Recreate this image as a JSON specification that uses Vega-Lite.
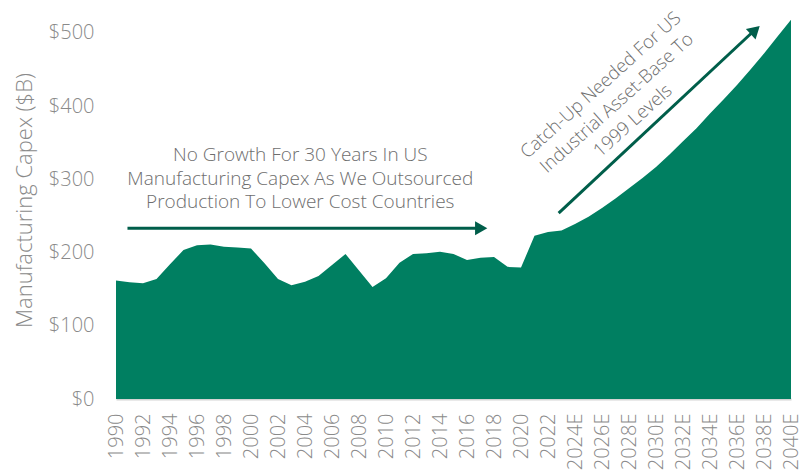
{
  "$schema": "https://vega.github.io/schema/vega-lite/v6.json",
  "width": 675,
  "height": 388,
  "autosize": {"type": "none"},
  "padding": {"left": 116, "top": 11, "right": 9, "bottom": 77},
  "background": "white",
  "config": {
    "view": {"stroke": null},
    "font": "Open Sans",
    "axis": {"labelFont": "Open Sans", "titleFont": "Open Sans", "labelColor": "#8a8a8a", "titleColor": "#8a8a8a", "titleFontWeight": 300, "labelFontWeight": 300, "grid": false, "ticks": false}
  },
  "layer": [
    {
      "data": {"values": [
        {"year": 1990, "capex": 162}, {"year": 1991, "capex": 159.5}, {"year": 1992, "capex": 158},
        {"year": 1993, "capex": 164}, {"year": 1994, "capex": 184}, {"year": 1995, "capex": 203.5},
        {"year": 1996, "capex": 210}, {"year": 1997, "capex": 211}, {"year": 1998, "capex": 208},
        {"year": 1999, "capex": 207}, {"year": 2000, "capex": 205.5}, {"year": 2001, "capex": 185.5},
        {"year": 2002, "capex": 164}, {"year": 2003, "capex": 155.5}, {"year": 2004, "capex": 160},
        {"year": 2005, "capex": 168}, {"year": 2006, "capex": 183}, {"year": 2007, "capex": 198},
        {"year": 2008, "capex": 175.5}, {"year": 2009, "capex": 153}, {"year": 2010, "capex": 165},
        {"year": 2011, "capex": 186}, {"year": 2012, "capex": 198}, {"year": 2013, "capex": 199},
        {"year": 2014, "capex": 201}, {"year": 2015, "capex": 198}, {"year": 2016, "capex": 190},
        {"year": 2017, "capex": 193}, {"year": 2018, "capex": 194}, {"year": 2019, "capex": 180.5},
        {"year": 2020, "capex": 179.5}, {"year": 2021, "capex": 223}, {"year": 2022, "capex": 228},
        {"year": 2023, "capex": 230}, {"year": 2024, "capex": 239}, {"year": 2025, "capex": 249},
        {"year": 2026, "capex": 261}, {"year": 2027, "capex": 274}, {"year": 2028, "capex": 288},
        {"year": 2029, "capex": 302}, {"year": 2030, "capex": 317}, {"year": 2031, "capex": 334},
        {"year": 2032, "capex": 352}, {"year": 2033, "capex": 370}, {"year": 2034, "capex": 390},
        {"year": 2035, "capex": 409}, {"year": 2036, "capex": 429}, {"year": 2037, "capex": 450},
        {"year": 2038, "capex": 472}, {"year": 2039, "capex": 495}, {"year": 2040, "capex": 518}
      ]},
      "mark": {"type": "area", "color": "#007F61", "interpolate": "linear"},
      "encoding": {
        "x": {
          "field": "year", "type": "quantitative",
          "scale": {"domain": [1990, 2040], "nice": false, "zero": false},
          "axis": {
            "title": null,
            "values": [1990,1992,1994,1996,1998,2000,2002,2004,2006,2008,2010,2012,2014,2016,2018,2020,2022,2024,2026,2028,2030,2032,2034,2036,2038,2040],
            "tickCount": 100,
            "labelExpr": "datum.value >= 2024 ? datum.value + 'E' : '' + datum.value",
            "labelAngle": -90,
            "labelFontSize": 20,
            "labelPadding": 14,
            "labelOverlap": false,
            "labelFlush": false,
            "labelBound": false,
            "domain": true,
            "domainColor": "#d4d4d4",
            "domainWidth": 2
          }
        },
        "y": {
          "field": "capex", "type": "quantitative",
          "scale": {"domain": [0, 530], "nice": false},
          "axis": {
            "title": "Manufacturing Capex ($B)",
            "titleFontSize": 22,
            "titlePadding": 12,
            "titleY": 189,
            "values": [0, 100, 200, 300, 400, 500],
            "labelExpr": "'$' + datum.value",
            "labelFontSize": 20,
            "labelPadding": 22,
            "domain": false
          }
        }
      }
    },
    {
      "data": {"values": [{}]},
      "mark": {"type": "rule", "color": "#005E4A", "strokeWidth": 3},
      "encoding": {
        "x": {"datum": 1990.85, "type": "quantitative"},
        "x2": {"datum": 2017.1},
        "y": {"datum": 233.3, "type": "quantitative"}
      }
    },
    {
      "data": {"values": [{}]},
      "mark": {"type": "point", "shape": "triangle-right", "filled": true, "color": "#005E4A", "size": 200, "opacity": 1},
      "encoding": {
        "x": {"datum": 2017.05, "type": "quantitative"},
        "y": {"datum": 233.3, "type": "quantitative"}
      }
    },
    {
      "data": {"values": [{}]},
      "mark": {"type": "rule", "color": "#005E4A", "strokeWidth": 3},
      "encoding": {
        "x": {"datum": 2022.79, "type": "quantitative"},
        "y": {"datum": 253.8, "type": "quantitative"},
        "x2": {"datum": 2037.2},
        "y2": {"datum": 502}
      }
    },
    {
      "data": {"values": [{}]},
      "mark": {"type": "point", "shape": "triangle-up", "filled": true, "color": "#005E4A", "size": 200, "opacity": 1, "angle": 47},
      "encoding": {
        "x": {"datum": 2037.35, "type": "quantitative"},
        "y": {"datum": 503.9, "type": "quantitative"}
      }
    },
    {
      "data": {"values": [{}]},
      "mark": {"type": "text", "text": ["No Growth For 30 Years In US", "Manufacturing Capex As We Outsourced", "Production To Lower Cost Countries"], "font": "Open Sans", "fontWeight": 300, "fontSize": 19, "lineHeight": 23.5, "color": "#6e6e6e", "align": "center", "baseline": "middle"},
      "encoding": {
        "x": {"datum": 2003.65, "type": "quantitative"},
        "y": {"datum": 333, "type": "quantitative"}
      }
    },
    {
      "data": {"values": [{}]},
      "mark": {"type": "text", "text": ["Catch-Up Needed For US", "Industrial Asset-Base To", "1999 Levels"], "font": "Open Sans", "fontWeight": 300, "fontSize": 18.5, "lineHeight": 24, "color": "#6e6e6e", "align": "center", "baseline": "middle", "angle": -42},
      "encoding": {
        "x": {"datum": 2025.9, "type": "quantitative"},
        "y": {"datum": 429, "type": "quantitative"}
      }
    }
  ]
}
